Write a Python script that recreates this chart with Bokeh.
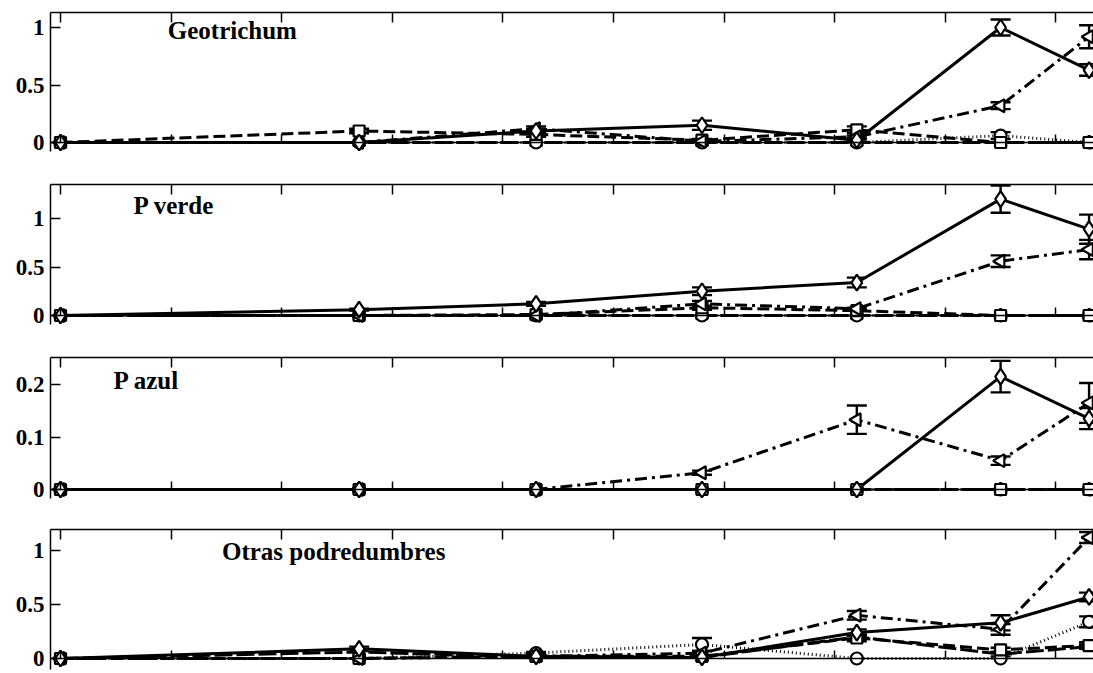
import numpy as np
from bokeh.plotting import figure
from bokeh.models import (ColumnDataSource, Whisker, TeeHead, Label, LinearAxis,
                          Range1d, FixedTicker)
from bokeh.layouts import column
from bokeh.embed import file_html
from bokeh.resources import INLINE

# ---------------- data ----------------
days = [0, 27, 43, 58, 72, 85, 93]
x_ticks = [0, 10, 20, 30, 40, 50, 60, 70, 80, 90]

# Geotrichum
geo_solid = [0, 0, 0.10, 0.15, 0.02, 1.00, 0.63]
geo_solid_err = [0, 0, 0.02, 0.04, 0.01, 0.07, 0.05]
geo_dash = [0, 0.10, 0.07, 0.02, 0.11, 0, 0]
geo_dash_err = [0, 0.02, 0.02, 0.01, 0.03, 0, 0]
geo_dashdot = [0, 0, 0.12, 0.01, 0.05, 0.32, 0.92]
geo_dashdot_err = [0, 0, 0.02, 0, 0.01, 0.03, 0.10]
geo_dot = [0, 0, 0, 0, 0, 0.06, 0]
geo_dot_err = [0, 0, 0, 0, 0, 0.03, 0]
geo_long = [0, 0, 0, 0, 0, 0, 0]
geo_long_err = [0, 0, 0, 0, 0, 0, 0]

# P verde
pv_solid = [0, 0.06, 0.12, 0.25, 0.34, 1.20, 0.89]
pv_solid_err = [0, 0.01, 0.02, 0.04, 0.05, 0.14, 0.15]
pv_dash = [0, 0, 0.01, 0.08, 0.05, 0, 0]
pv_dash_err = [0, 0, 0, 0.02, 0, 0, 0]
pv_dashdot = [0, 0, 0.0, 0.12, 0.07, 0.56, 0.68]
pv_dashdot_err = [0, 0, 0, 0.03, 0.01, 0.06, 0.10]
pv_dot = [0, 0, 0, 0, 0, 0, 0]
pv_dot_err = [0, 0, 0, 0, 0, 0, 0]
pv_long = [0, 0, 0, 0, 0, 0, 0]
pv_long_err = [0, 0, 0, 0, 0, 0, 0]

# P azul
pa_solid = [0, 0, 0, 0, 0, 0.215, 0.135]
pa_solid_err = [0, 0, 0, 0, 0, 0.03, 0.02]
pa_dash = [0, 0, 0, 0, 0, 0, 0]
pa_dash_err = [0, 0, 0, 0, 0, 0, 0]
pa_dashdot = [0, 0, 0, 0.032, 0.133, 0.055, 0.165]
pa_dashdot_err = [0, 0, 0, 0.004, 0.027, 0.008, 0.038]
pa_dot = [0, 0, 0, 0, 0, 0, 0]
pa_dot_err = [0, 0, 0, 0, 0, 0, 0]
pa_long = [0, 0, 0, 0, 0, 0, 0]
pa_long_err = [0, 0, 0, 0, 0, 0, 0]

# Otras podredumbres
op_solid = [0, 0.09, 0.02, 0.01, 0.24, 0.33, 0.57]
op_solid_err = [0, 0.02, 0.01, 0, 0.03, 0.07, 0.04]
op_dash = [0, 0, 0.02, 0.02, 0.19, 0.08, 0.12]
op_dash_err = [0, 0, 0, 0, 0.03, 0.02, 0.03]
op_dashdot = [0, 0, 0.02, 0.05, 0.40, 0.27, 1.12]
op_dashdot_err = [0, 0, 0, 0.02, 0.04, 0.05, 0.05]
op_dot = [0, 0, 0.05, 0.13, 0.0, 0.0, 0.34]
op_dot_err = [0, 0, 0.01, 0.06, 0, 0, 0.05]
op_long = [0, 0.06, 0.01, 0.01, 0.20, 0.04, 0.11]
op_long_err = [0, 0, 0, 0, 0.02, 0.02, 0.02]

panel_titles = ["Geotrichum", "P verde", "P azul", "Otras podredumbres"]

# ---------------- styles ----------------
STYLES = {
    "long":    dict(dash="18 4", marker="triangle", angle=0.0, size=12),
    "dot":     dict(dash="1 3", marker="circle", angle=0.0, size=12),
    "dash":    dict(dash="12 5", marker="square", angle=0.0, size=11),
    "dashdot": dict(dash="12 5 3 5", marker="triangle", angle=np.pi / 2, size=13),
    "solid":   dict(dash="solid", marker="diamond", angle=0.0, size=16),
}
FONT = "Liberation Serif"


def make_panel(series, yticks, ylabels, y0, y1, border_top, frame_h, border_bottom,
               title, tx, ty):
    p = figure(frame_width=1043, frame_height=frame_h,
               min_border_top=border_top, min_border_left=50,
               min_border_right=0, min_border_bottom=border_bottom,
               x_range=Range1d(-0.904, 93.4), y_range=Range1d(y0, y1),
               x_axis_location=None, y_axis_location="left",
               output_backend="svg", toolbar_location=None)
    p.outline_line_color = None
    p.grid.visible = False
    p.background_fill_color = "white"
    p.border_fill_color = "white"

    ya = p.yaxis[0]
    ya.ticker = FixedTicker(ticks=yticks)
    ya.major_label_overrides = {t: l for t, l in zip(yticks, ylabels)}
    ya.major_tick_in = 10
    ya.major_tick_out = 0
    ya.minor_tick_in = 0
    ya.minor_tick_out = 0
    ya.axis_line_width = 1.5
    ya.major_tick_line_width = 1.5
    ya.major_label_text_font = FONT
    ya.major_label_text_font_style = "bold"
    ya.major_label_text_font_size = "23px"
    ya.major_label_text_color = "black"
    ya.major_label_standoff = 6

    for loc in ("above", "below"):
        ax = LinearAxis(ticker=FixedTicker(ticks=x_ticks))
        if loc == "below":
            ax.fixed_location = 0
            ax.major_tick_in = 8
        else:
            ax.major_tick_in = 10
        ax.major_tick_out = 0
        ax.minor_tick_in = 0
        ax.minor_tick_out = 0
        ax.axis_line_width = 1.5
        ax.major_tick_line_width = 1.5
        ax.major_label_overrides = {t: "" for t in x_ticks}
        ax.major_label_text_color = None
        ax.major_label_text_font_size = "1px"
        ax.major_label_standoff = 0
        p.add_layout(ax, loc)

    for key, (vals, errs) in series.items():
        st = STYLES[key]
        p.line(days, vals, line_color="black", line_width=3, line_dash=st["dash"])
    for key, (vals, errs) in series.items():
        st = STYLES[key]
        p.scatter(days, vals, marker=st["marker"], angle=st["angle"], size=st["size"],
                  fill_color="white", line_color="black", line_width=2.2)
    for key, (vals, errs) in series.items():
        xs = [d for d, e in zip(days, errs) if e > 0]
        lo = [v - e for v, e in zip(vals, errs) if e > 0]
        hi = [v + e for v, e in zip(vals, errs) if e > 0]
        if not xs:
            continue
        src = ColumnDataSource(dict(x=xs, lower=lo, upper=hi))
        w = Whisker(base="x", lower="lower", upper="upper", source=src,
                    line_color="black", line_width=2.4,
                    upper_head=TeeHead(size=20, line_width=2.4, line_color="black"),
                    lower_head=TeeHead(size=20, line_width=2.4, line_color="black"))
        p.add_layout(w)

    p.add_layout(Label(x=tx, y=ty, text=title, text_font=FONT, text_font_style="bold",
                       text_font_size="25px", text_color="black",
                       text_baseline="middle", text_align="left"))
    return p


p1 = make_panel({"long": (geo_long, geo_long_err), "dot": (geo_dot, geo_dot_err),
                 "dash": (geo_dash, geo_dash_err), "dashdot": (geo_dashdot, geo_dashdot_err),
                 "solid": (geo_solid, geo_solid_err)},
                [0, 0.5, 1], ["0", "0.5", "1"], -9 / 115, 130 / 115, 12, 139, 4,
                panel_titles[0], 9.7, 0.974)
p2 = make_panel({"long": (pv_long, pv_long_err), "dot": (pv_dot, pv_dot_err),
                 "dash": (pv_dash, pv_dash_err), "dashdot": (pv_dashdot, pv_dashdot_err),
                 "solid": (pv_solid, pv_solid_err)},
                [0, 0.5, 1], ["0", "0.5", "1"], -9 / 97, 131 / 97, 29, 140, 4,
                panel_titles[1], 6.6, 1.134)
p3 = make_panel({"long": (pa_long, pa_long_err), "dot": (pa_dot, pa_dot_err),
                 "dash": (pa_dash, pa_dash_err), "dashdot": (pa_dashdot, pa_dashdot_err),
                 "solid": (pa_solid, pa_solid_err)},
                [0, 0.1, 0.2], ["0", "0.1", "0.2"], -9 / 525, 132 / 525, 29, 141, 4,
                panel_titles[2], 4.8, 0.208)
p4 = make_panel({"long": (op_long, op_long_err), "dot": (op_dot, op_dot_err),
                 "dash": (op_dash, op_dash_err), "dashdot": (op_dashdot, op_dashdot_err),
                 "solid": (op_solid, op_solid_err)},
                [0, 0.5, 1], ["0", "0.5", "1"], -11 / 108, 129 / 108, 27, 140, 4,
                panel_titles[3], 14.6, 0.99)

layout = column(p1, p2, p3, p4, spacing=0)
open("out.html", "w").write(file_html(layout, INLINE))
